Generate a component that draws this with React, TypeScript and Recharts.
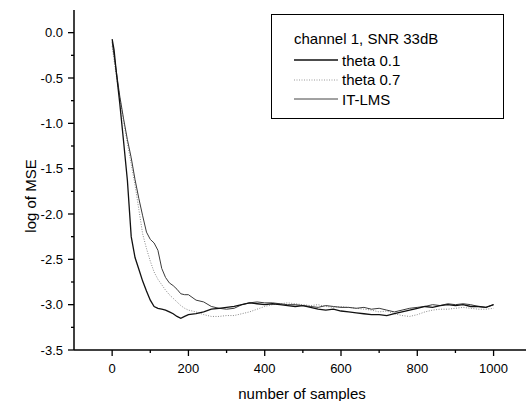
import React from "react";
import { LineChart, Line, XAxis, YAxis } from "recharts";

const samples = [0, 5, 10, 20, 30, 40, 50, 60, 70, 80, 90, 100, 110, 120, 130, 140, 150, 160, 170, 180, 190, 200, 220, 240, 260, 280, 300, 320, 340, 360, 380, 400, 420, 440, 460, 480, 500, 520, 540, 560, 580, 600, 620, 640, 660, 680, 700, 720, 740, 760, 780, 800, 820, 840, 860, 880, 900, 920, 940, 960, 980, 1000];

const theta01 = [-0.07, -0.19, -0.40, -0.78, -1.20, -1.63, -2.25, -2.48, -2.61, -2.74, -2.85, -2.95, -3.02, -3.04, -3.05, -3.06, -3.08, -3.10, -3.13, -3.15, -3.13, -3.11, -3.10, -3.08, -3.05, -3.04, -3.03, -3.02, -3.00, -2.98, -2.99, -3.00, -2.99, -3.00, -3.01, -3.02, -3.01, -3.03, -3.05, -3.06, -3.05, -3.07, -3.08, -3.09, -3.10, -3.11, -3.11, -3.12, -3.10, -3.08, -3.06, -3.04, -3.02, -3.03, -3.01, -3.00, -3.01, -3.00, -3.02, -3.02, -3.03, -3.00];

const theta07 = [-0.15, -0.30, -0.45, -0.72, -0.98, -1.22, -1.45, -1.68, -1.95, -2.22, -2.38, -2.52, -2.64, -2.72, -2.78, -2.84, -2.89, -2.93, -2.97, -3.01, -3.04, -3.06, -3.08, -3.11, -3.13, -3.13, -3.12, -3.12, -3.10, -3.08, -3.05, -3.02, -3.00, -2.99, -2.98, -2.99, -3.00, -3.01, -3.00, -3.02, -3.03, -3.02, -3.03, -3.04, -3.05, -3.06, -3.08, -3.07, -3.10, -3.12, -3.13, -3.11, -3.08, -3.06, -3.05, -3.05, -3.04, -3.03, -3.04, -3.05, -3.05, -3.04];

const itLms = [-0.10, -0.25, -0.40, -0.70, -0.95, -1.18, -1.38, -1.62, -1.83, -2.02, -2.20, -2.28, -2.32, -2.40, -2.60, -2.70, -2.76, -2.79, -2.83, -2.88, -2.89, -2.89, -2.95, -2.97, -3.02, -3.04, -3.05, -3.04, -3.00, -2.98, -2.97, -2.98, -2.98, -2.99, -3.00, -3.00, -3.01, -3.02, -3.03, -3.01, -3.02, -3.03, -3.03, -3.04, -3.03, -3.05, -3.04, -3.06, -3.08, -3.06, -3.04, -3.03, -3.02, -3.00, -3.01, -2.99, -3.00, -2.99, -3.00, -3.02, -3.03, -3.00];

const xTicks = [0, 100, 200, 300, 400, 500, 600, 700, 800, 900, 1000];
const yTicks = [-3.5, -3.25, -3.0, -2.75, -2.5, -2.25, -2.0, -1.75, -1.5, -1.25, -1.0, -0.75, -0.5, -0.25, 0.0];

const legendTitle = "channel 1, SNR 33dB";
const seriesNames = ["theta 0.1", "theta 0.7", "IT-LMS"];

const data = samples.map((n, i) => ({ n, a: theta01[i], b: theta07[i], c: itLms[i] }));

const FONT = "'Liberation Sans', Arial, Helvetica, sans-serif";

const XTick = (props: any) => {
  const { x, y, payload } = props;
  const v = payload.value;
  const major = v % 200 === 0;
  return (
    <g>
      <line x1={x} y1={y} x2={x} y2={y + (major ? 6 : 3)} stroke="#000" strokeWidth={1.3} />
      {major && (
        <text x={x} y={y + 18} textAnchor="middle" dominantBaseline="central" fontSize={13} fontFamily={FONT} fill="#000">
          {v}
        </text>
      )}
    </g>
  );
};

const YTick = (props: any) => {
  const { x, y, payload } = props;
  const v = payload.value;
  const major = Math.abs(v * 2 - Math.round(v * 2)) < 1e-6;
  return (
    <g>
      <line x1={x - (major ? 6 : 3)} y1={y} x2={x} y2={y} stroke="#000" strokeWidth={1.3} />
      {major && (
        <text x={x - 11} y={y} textAnchor="end" dominantBaseline="central" fontSize={13} fontFamily={FONT} fill="#000">
          {v.toFixed(1)}
        </text>
      )}
    </g>
  );
};

const LegendBox = () => (
  <div
    style={{
      position: "absolute",
      left: 271,
      top: 14,
      width: 233,
      height: 105,
      border: "1.5px solid #000",
      background: "#fff",
      fontFamily: FONT,
      fontSize: 15,
      color: "#000",
      boxSizing: "border-box",
    }}
  >
    <div style={{ position: "absolute", left: 22, top: 15, lineHeight: "18px", whiteSpace: "nowrap" }}>{legendTitle}</div>
    {seriesNames.map((name, i) => (
      <div key={name} style={{ position: "absolute", left: 22, top: 36 + i * 19.5, height: 18, display: "flex", alignItems: "center", whiteSpace: "nowrap" }}>
        <svg width={46} height={18} style={{ display: "block" }}>
          <line
            x1={0}
            y1={9}
            x2={44}
            y2={9}
            stroke={i === 0 ? "#111" : i === 1 ? "#999" : "#444"}
            strokeWidth={i === 0 ? 1.3 : 1}
            strokeDasharray={i === 1 ? "1 1.5" : undefined}
          />
        </svg>
        <span style={{ marginLeft: 2 }}>{name}</span>
      </div>
    ))}
  </div>
);

export default function App() {
  return (
    <div style={{ position: "absolute", left: 0, top: 0, width: 526, height: 401, background: "#fff" }}>
      <LineChart width={526} height={401} data={data} margin={{ top: 10, right: 0, left: 0, bottom: 0 }}>
        <XAxis
          dataKey="n"
          type="number"
          domain={[-100, 1085]}
          ticks={xTicks}
          tick={<XTick />}
          tickLine={false}
          tickSize={0}
          tickMargin={0}
          height={51}
          axisLine={{ stroke: "#000", strokeWidth: 1.5 }}
          allowDataOverflow
          label={() => (
            <text x={302} y={393} textAnchor="middle" dominantBaseline="central" fontSize={15} fontFamily={FONT} fill="#000">
              number of samples
            </text>
          )}
        />
        <YAxis
          type="number"
          domain={[-3.5, 0.25]}
          ticks={yTicks}
          tick={<YTick />}
          tickLine={false}
          tickSize={0}
          tickMargin={0}
          width={74}
          axisLine={{ stroke: "#000", strokeWidth: 1.5 }}
          allowDataOverflow
          interval={0}
          label={() => (
            <text x={30} y={196} transform="rotate(-90 30 196)" textAnchor="middle" dominantBaseline="central" fontSize={15} fontFamily={FONT} fill="#000">
              log of MSE
            </text>
          )}
        />
        <Line dataKey="b" name={seriesNames[1]} stroke="#8a8a8a" strokeWidth={1} strokeDasharray="1 1.5" dot={false} isAnimationActive={false} type="linear" />
        <Line dataKey="c" name={seriesNames[2]} stroke="#3a3a3a" strokeWidth={1} dot={false} isAnimationActive={false} type="linear" />
        <Line dataKey="a" name={seriesNames[0]} stroke="#111" strokeWidth={1.3} dot={false} isAnimationActive={false} type="linear" />
      </LineChart>
      <LegendBox />
    </div>
  );
}
